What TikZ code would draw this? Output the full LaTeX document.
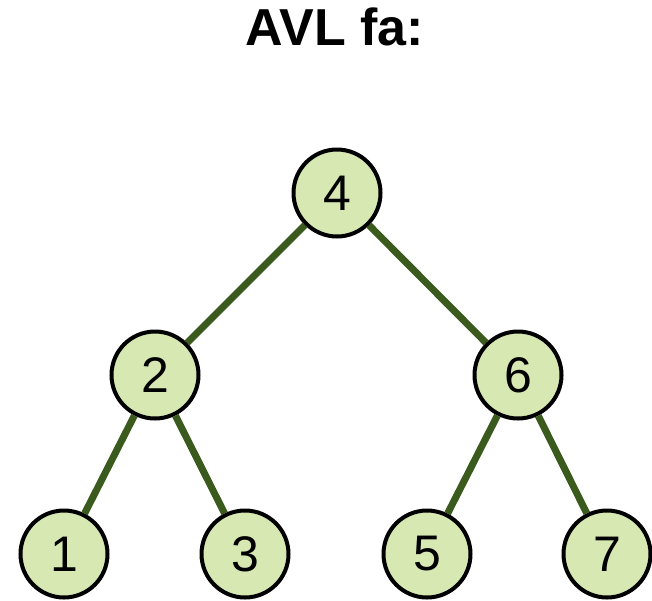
\documentclass[tikz,border=0pt]{standalone}
\usepackage{fontspec}
\setmainfont{Liberation Sans}
\usepackage{tikz}
\definecolor{zoldvilagos}{HTML}{D7E8B3}
\definecolor{zoldsotet}{HTML}{3B5A1E}
\tikzset{
  csucs/.style={circle,draw=black,line width=4pt,fill=zoldvilagos,minimum size=87pt,inner sep=0pt,font=\fontsize{50}{50}\selectfont},
  el/.style={line width=7pt,zoldsotet},
  cim/.style={font=\bfseries\fontsize{52}{52}\selectfont},
}

\begin{document}
\begin{tikzpicture}[x=1pt,y=-1pt]
  \useasboundingbox (0,0) rectangle (652,600);
  \node[cim] (cim) at (335,27) {AVL fa:};
  % csucsok
  \node[csucs] (n4) at (337,193) {4};
  \node[csucs] (n2) at (155,375) {2};
  \node[csucs] (n6) at (518,375) {6};
  \node[csucs] (n1) at (64,554) {1};
  \node[csucs] (n3) at (245,554) {3};
  \node[csucs] (n5) at (427,554) {5};
  \node[csucs] (n7) at (607,554) {7};
  % elek
  \foreach \a/\b in {n4/n2,n4/n6,n2/n1,n2/n3,n6/n5,n6/n7}
    \draw[el] (\a) -- (\b);
\end{tikzpicture}
\end{document}
